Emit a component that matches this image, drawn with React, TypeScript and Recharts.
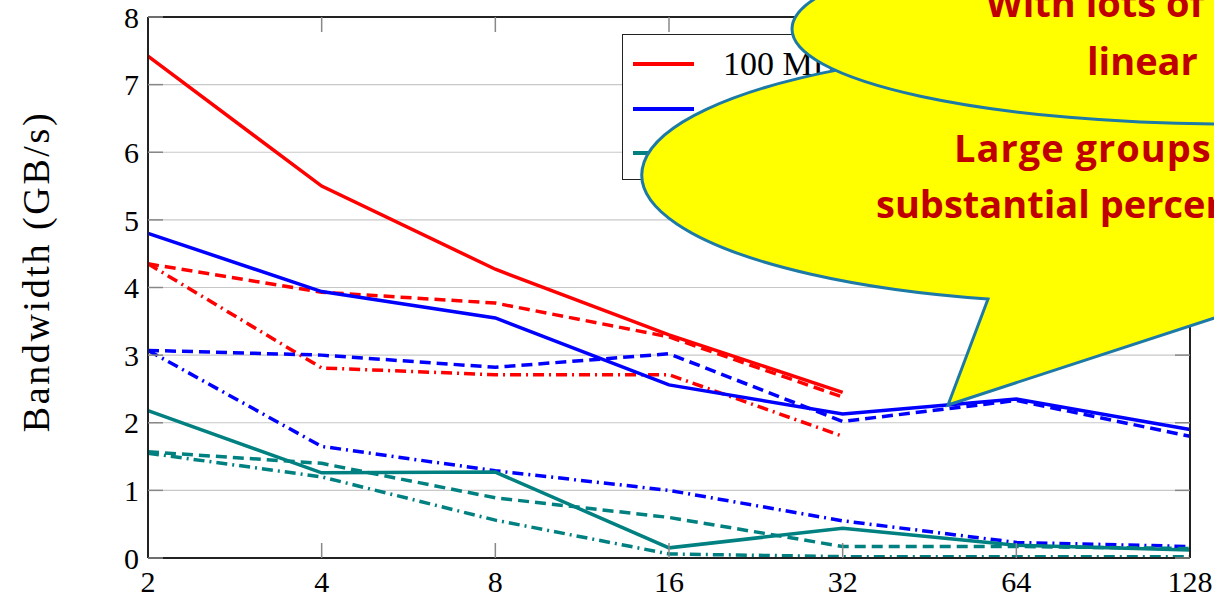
import { LineChart, Line, XAxis, YAxis, CartesianGrid, Legend } from "recharts";

// group sizes on the x axis (log2 spaced, drawn as evenly spaced categories)
const groupSizes = ["2", "4", "8", "16", "32", "64", "128"];
const yTicks = [0, 1, 2, 3, 4, 5, 6, 7, 8];

// bandwidth in GB/s
const redSolid = [7.42, 5.5, 4.27, 3.3, 2.45, null, null];
const redDashed = [4.35, 3.93, 3.77, 3.27, 2.38, null, null];
const redDashDot = [4.35, 2.81, 2.71, 2.71, 1.8, null, null];
const blueSolid = [4.8, 3.94, 3.55, 2.56, 2.13, 2.35, 1.9];
const blueDashed = [3.07, 3.0, 2.82, 3.02, 2.02, 2.33, 1.8];
const blueDashDot = [3.07, 1.65, 1.29, 1.0, 0.55, 0.23, 0.17];
const tealSolid = [2.18, 1.26, 1.27, 0.15, 0.44, 0.19, 0.12];
const tealDashed = [1.57, 1.4, 0.89, 0.6, 0.17, 0.17, 0.14];
const tealDashDot = [1.55, 1.2, 0.56, 0.06, 0.02, 0.02, 0.02];

const legendLabels = ["100 MB", "1 GB", "10 GB"];
const legendColors = ["#ff0000", "#0000ff", "#008080"];

const rows = groupSizes.map((n, i) => ({
  n,
  redSolid: redSolid[i],
  redDashed: redDashed[i],
  redDashDot: redDashDot[i],
  blueSolid: blueSolid[i],
  blueDashed: blueDashed[i],
  blueDashDot: blueDashDot[i],
  tealSolid: tealSolid[i],
  tealDashed: tealDashed[i],
  tealDashDot: tealDashDot[i],
}));

const DASHED = "11 6";
const DASH_DOT = "11 5 2 5";

const series = [
  { key: "redSolid", color: "#ff0000", dash: undefined },
  { key: "redDashed", color: "#ff0000", dash: DASHED },
  { key: "redDashDot", color: "#ff0000", dash: DASH_DOT },
  { key: "blueSolid", color: "#0000ff", dash: undefined },
  { key: "blueDashed", color: "#0000ff", dash: DASHED },
  { key: "blueDashDot", color: "#0000ff", dash: DASH_DOT },
  { key: "tealSolid", color: "#008080", dash: undefined },
  { key: "tealDashed", color: "#008080", dash: DASHED },
  { key: "tealDashDot", color: "#008080", dash: DASH_DOT },
];

const SERIF = "'Liberation Serif', 'Times New Roman', serif";
const frame = { stroke: "#222", strokeWidth: 2 };
const innerTick = { stroke: "#888", strokeWidth: 1.5 };
const noLabel = () => <g />;

function YTitle({ viewBox }: { viewBox?: { x: number; y: number; width: number; height: number } }) {
  if (!viewBox) return null;
  const cx = viewBox.x + 36;
  const cy = viewBox.y + viewBox.height / 2 - 16;
  return (
    <text
      x={cx}
      y={cy}
      transform={`rotate(-90, ${cx}, ${cy})`}
      textAnchor="middle"
      dominantBaseline="central"
      fontFamily={SERIF}
      fontSize={38}
      letterSpacing={2.6}
      fill="#000"
    >
      Bandwidth (GB/s)
    </text>
  );
}

function LegendBox() {
  return (
    <div
      style={{
        border: "1.5px solid #222",
        background: "#fff",
        width: 262,
        height: 146,
        boxSizing: "border-box",
        paddingTop: 7,
        paddingLeft: 10,
      }}
    >
      {legendLabels.map((label, i) => (
        <div key={label} style={{ display: "flex", alignItems: "center", height: 44.5 }}>
          <span style={{ display: "inline-block", width: 61, height: 4, background: legendColors[i] }} />
          <span style={{ marginLeft: 29, fontFamily: SERIF, fontSize: 34, lineHeight: 1 }}>{label}</span>
        </div>
      ))}
    </div>
  );
}

function Callouts() {
  const font = "'Open Sans', 'DejaVu Sans', sans-serif";
  const ink = "#c00000";
  const edge = "#1d7aa6";
  return (
    <svg width={1214} height={597} style={{ position: "absolute", left: 0, top: 0, pointerEvents: "none" }}>
      <path
        d="M 988 299 L 948 405 L 1300 290 A 458 128 0 1 0 988 299 Z"
        fill="#ffff00"
        stroke={edge}
        strokeWidth={3}
      />
      <text x={954} y={162} fontFamily={font} fontWeight={700} fontSize={38} letterSpacing={1} fill={ink}>
        Large groups
      </text>
      <text x={876} y={218} fontFamily={font} fontWeight={700} fontSize={38} fill={ink}>
        substantial percen
      </text>
      <ellipse cx={1230} cy={29} rx={438} ry={95} fill="#ffff00" stroke={edge} strokeWidth={3} />
      <text x={986} y={17} fontFamily={font} fontWeight={700} fontSize={38} fill={ink}>
        With lots of
      </text>
      <text x={1087} y={75} fontFamily={font} fontWeight={700} fontSize={38} fill={ink}>
        linear
      </text>
    </svg>
  );
}

export default function App() {
  return (
    <div style={{ position: "absolute", left: 0, top: 0, width: 1214, height: 597, background: "#fff" }}>
      <LineChart width={1214} height={597} data={rows} margin={{ top: 17, right: 24, bottom: 0, left: 0 }}>
        <CartesianGrid vertical={false} stroke="#c8c8c8" strokeWidth={1.2} />
        <XAxis
          dataKey="n"
          height={39}
          axisLine={frame}
          tickLine={false}
          tickSize={0}
          tickMargin={12.5}
          interval={0}
          tick={{ fontFamily: SERIF, fontSize: 30, fill: "#000" }}
        />
        <XAxis xAxisId="bottomTicks" dataKey="n" mirror axisLine={false} tickLine={innerTick} tickSize={15} interval={0} tick={noLabel} />
        <XAxis xAxisId="top" dataKey="n" orientation="top" mirror axisLine={frame} tickLine={innerTick} tickSize={15} interval={0} tick={noLabel} />
        <YAxis
          type="number"
          domain={[0, 8]}
          ticks={yTicks}
          interval={0}
          width={148}
          axisLine={frame}
          tickLine={false}
          tickSize={0}
          tickMargin={9}
          tick={{ fontFamily: SERIF, fontSize: 30, fill: "#000" }}
          label={<YTitle />}
        />
        <YAxis yAxisId="leftTicks" type="number" domain={[0, 8]} allowDataOverflow ticks={yTicks} interval={0} mirror axisLine={false} tickLine={innerTick} tickSize={15} tick={noLabel} />
        <YAxis yAxisId="right" orientation="right" type="number" domain={[0, 8]} allowDataOverflow ticks={yTicks} interval={0} mirror axisLine={frame} tickLine={innerTick} tickSize={15} tick={noLabel} />
        {series.map((s) => (
          <Line
            key={s.key}
            type="linear"
            dataKey={s.key}
            stroke={s.color}
            strokeWidth={3.5}
            strokeDasharray={s.dash}
            dot={false}
            activeDot={false}
            isAnimationActive={false}
          />
        ))}
        <Legend
          layout="vertical"
          align="center"
          verticalAlign="middle"
          content={<LegendBox />}
          wrapperStyle={{ position: "absolute", left: 622, top: 34, width: 262, height: 146 }}
        />
      </LineChart>
      <Callouts />
    </div>
  );
}
